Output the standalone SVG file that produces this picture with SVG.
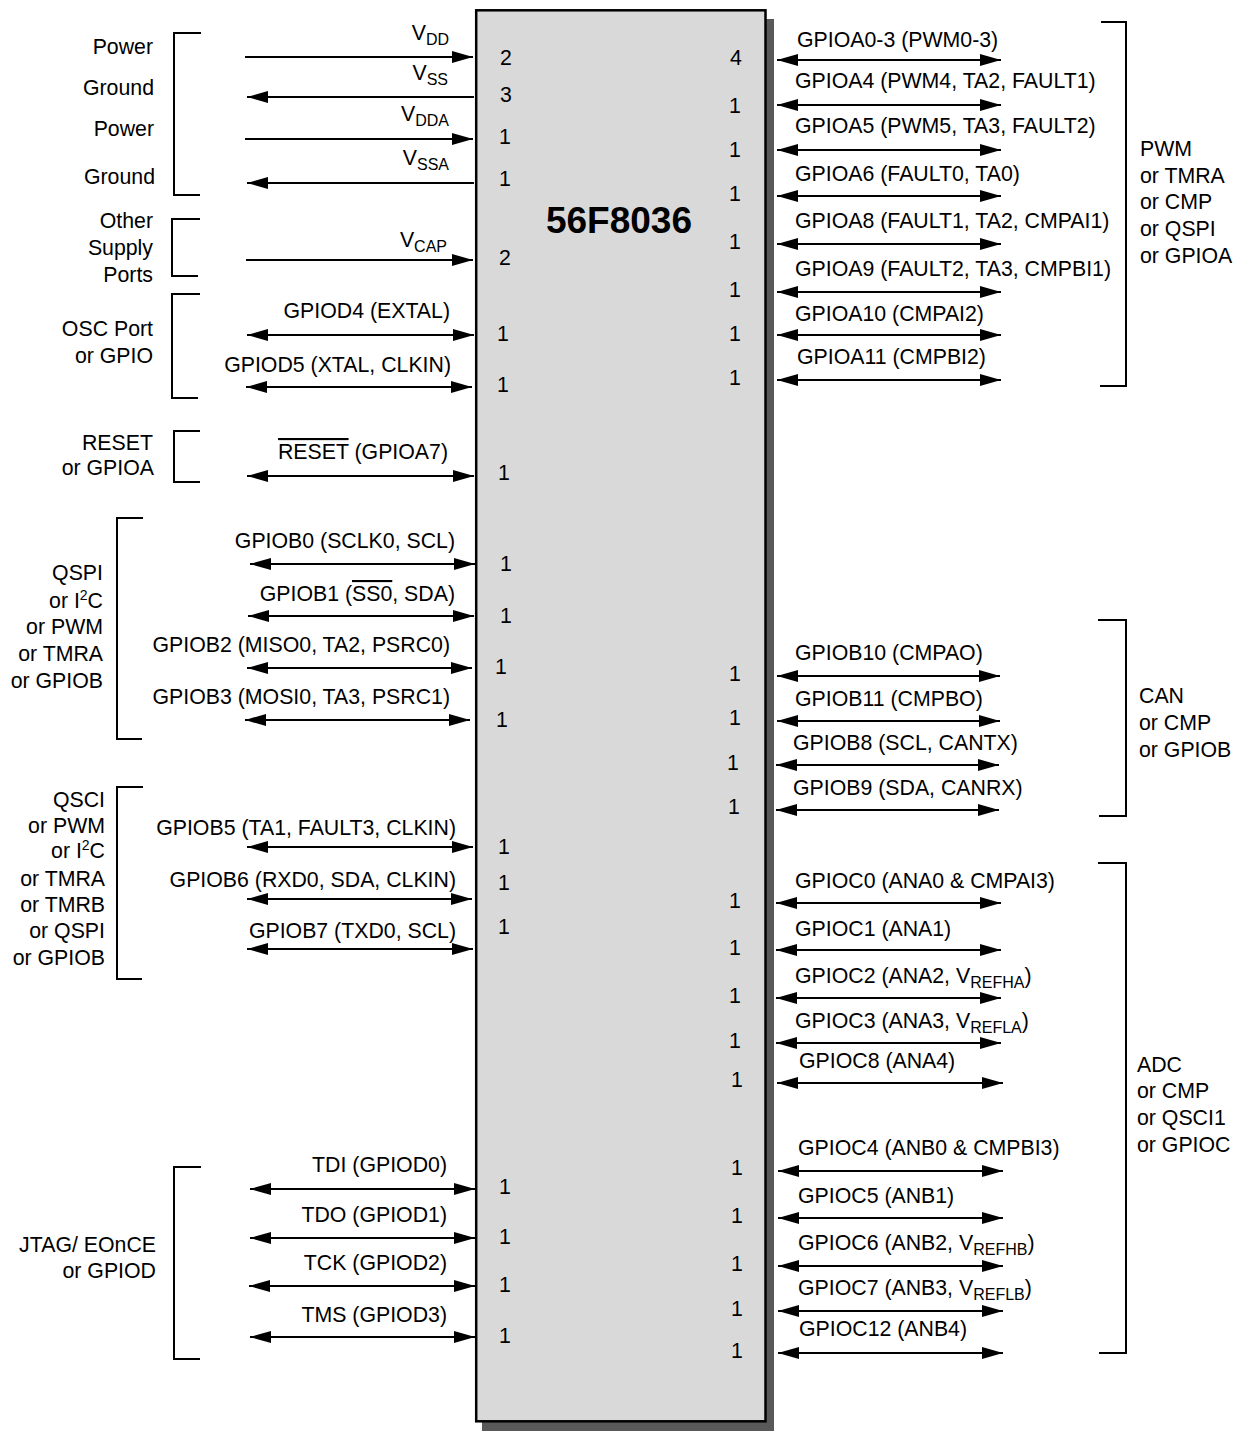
<svg xmlns="http://www.w3.org/2000/svg" width="1238" height="1431" viewBox="0 0 1238 1431">
<defs>
<marker id="ah" markerWidth="21" markerHeight="12" refX="21" refY="6" orient="auto-start-reverse" markerUnits="userSpaceOnUse"><path d="M0,0 L21,6 L0,12 Z" fill="#000"/></marker>
<style>
text{font-family:"Liberation Sans",Arial,Helvetica,sans-serif;font-size:21.3px;fill:#000}
.e{text-anchor:end}
.m{text-anchor:middle}
.sub{font-size:16px}
.sup{font-size:14px}
.w{stroke:#000;stroke-width:2;fill:none}
.a1{marker-end:url(#ah)}
.a2{marker-start:url(#ah);marker-end:url(#ah)}
.br{stroke:#000;stroke-width:2;fill:none}
.ov{text-decoration:overline}
</style>
</defs>
<rect width="1238" height="1431" fill="#fff"/>
<g id="chip">
<rect x="482" y="19" width="292" height="1412" fill="#595959"/>
<rect x="476.2" y="10.3" width="289.3" height="1411" fill="#d9d9d9" stroke="#000" stroke-width="2.5"/>
<text x="619" y="233" class="m" style="font-size:37px;font-weight:bold">56F8036</text>
</g>
<g id="connectors">
<line class="w a1" x1="245" y1="57" x2="473" y2="57"/>
<line class="w a1" x1="474" y1="97" x2="247" y2="97"/>
<line class="w a1" x1="245" y1="139" x2="473" y2="139"/>
<line class="w a1" x1="474" y1="183" x2="247" y2="183"/>
<line class="w a1" x1="246" y1="260" x2="473" y2="260"/>
<line class="w a2" x1="247" y1="335" x2="474" y2="335"/>
<line class="w a2" x1="246" y1="387" x2="472" y2="387"/>
<line class="w a2" x1="247" y1="476" x2="474" y2="476"/>
<line class="w a2" x1="250" y1="564" x2="475" y2="564"/>
<line class="w a2" x1="248" y1="616" x2="474" y2="616"/>
<line class="w a2" x1="247" y1="668" x2="472" y2="668"/>
<line class="w a2" x1="245" y1="720" x2="470" y2="720"/>
<line class="w a2" x1="247" y1="847" x2="473" y2="847"/>
<line class="w a2" x1="247" y1="899" x2="472" y2="899"/>
<line class="w a2" x1="247" y1="949" x2="473" y2="949"/>
<line class="w a2" x1="250" y1="1189" x2="475" y2="1189"/>
<line class="w a2" x1="250" y1="1238" x2="475" y2="1238"/>
<line class="w a2" x1="249" y1="1286" x2="475" y2="1286"/>
<line class="w a2" x1="250" y1="1337" x2="475" y2="1337"/>
<line class="w a2" x1="777" y1="60" x2="1001" y2="60"/>
<line class="w a2" x1="777" y1="105" x2="1001" y2="105"/>
<line class="w a2" x1="777" y1="150" x2="1001" y2="150"/>
<line class="w a2" x1="777" y1="196" x2="1001" y2="196"/>
<line class="w a2" x1="777" y1="244" x2="1001" y2="244"/>
<line class="w a2" x1="777" y1="292" x2="1001" y2="292"/>
<line class="w a2" x1="777" y1="335" x2="1001" y2="335"/>
<line class="w a2" x1="777" y1="380" x2="1001" y2="380"/>
<line class="w a2" x1="777" y1="676" x2="1000" y2="676"/>
<line class="w a2" x1="777" y1="721" x2="1000" y2="721"/>
<line class="w a2" x1="776" y1="765" x2="999" y2="765"/>
<line class="w a2" x1="776" y1="810" x2="999" y2="810"/>
<line class="w a2" x1="776" y1="903" x2="1001" y2="903"/>
<line class="w a2" x1="776" y1="950" x2="1001" y2="950"/>
<line class="w a2" x1="776" y1="998" x2="1001" y2="998"/>
<line class="w a2" x1="776" y1="1043" x2="1001" y2="1043"/>
<line class="w a2" x1="777" y1="1083" x2="1003" y2="1083"/>
<line class="w a2" x1="778" y1="1171" x2="1003" y2="1171"/>
<line class="w a2" x1="778" y1="1218" x2="1003" y2="1218"/>
<line class="w a2" x1="778" y1="1266" x2="1003" y2="1266"/>
<line class="w a2" x1="778" y1="1311" x2="1003" y2="1311"/>
<line class="w a2" x1="778" y1="1353" x2="1003" y2="1353"/>
</g>
<g id="brackets">
<polyline class="br" points="201,33 174,33 174,195 200,195"/>
<polyline class="br" points="200,219 172,219 172,276 198,276"/>
<polyline class="br" points="200,294 172,294 172,398 198,398"/>
<polyline class="br" points="200,431 174,431 174,482 200,482"/>
<polyline class="br" points="143,518 117,518 117,739 142,739"/>
<polyline class="br" points="143,787 117,787 117,979 142,979"/>
<polyline class="br" points="201,1167 174,1167 174,1359 200,1359"/>
<polyline class="br" points="1101,22 1126,22 1126,386 1100,386"/>
<polyline class="br" points="1098,620 1126,620 1126,816 1099,816"/>
<polyline class="br" points="1098,863 1126,863 1126,1353 1099,1353"/>
</g>
<g id="group-labels">
<text x="153" y="54" class="e">Power</text>
<text x="154" y="95" class="e">Ground</text>
<text x="154" y="136" class="e">Power</text>
<text x="155" y="184" class="e">Ground</text>
<text x="153" y="228" class="e">Other</text>
<text x="153" y="255" class="e">Supply</text>
<text x="153" y="282" class="e">Ports</text>
<text x="153" y="336" class="e">OSC Port</text>
<text x="153" y="363" class="e">or GPIO</text>
<text x="153" y="450" class="e">RESET</text>
<text x="154" y="475" class="e">or GPIOA</text>
<text x="103" y="580" class="e">QSPI</text>
<text x="103" y="608" class="e">or I<tspan class="sup" dy="-8">2</tspan><tspan dy="8">C</tspan></text>
<text x="103" y="634" class="e">or PWM</text>
<text x="103" y="661" class="e">or TMRA</text>
<text x="103" y="688" class="e">or GPIOB</text>
<text x="105" y="807" class="e">QSCI</text>
<text x="105" y="833" class="e">or PWM</text>
<text x="105" y="858" class="e">or I<tspan class="sup" dy="-8">2</tspan><tspan dy="8">C</tspan></text>
<text x="105" y="886" class="e">or TMRA</text>
<text x="105" y="912" class="e">or TMRB</text>
<text x="105" y="938" class="e">or QSPI</text>
<text x="105" y="965" class="e">or GPIOB</text>
<text x="156" y="1252" class="e">JTAG/ EOnCE</text>
<text x="156" y="1278" class="e">or GPIOD</text>
<text x="1140" y="156">PWM</text>
<text x="1140" y="183">or TMRA</text>
<text x="1140" y="209">or CMP</text>
<text x="1140" y="236">or QSPI</text>
<text x="1140" y="263">or GPIOA</text>
<text x="1139" y="703">CAN</text>
<text x="1139" y="730">or CMP</text>
<text x="1139" y="757">or GPIOB</text>
<text x="1137" y="1072">ADC</text>
<text x="1137" y="1098">or CMP</text>
<text x="1137" y="1125">or QSCI1</text>
<text x="1137" y="1152">or GPIOC</text>
</g>
<g id="left-pins">
<text x="449" y="40" class="e">V<tspan class="sub" dy="4.5">DD</tspan></text>
<text x="448" y="80" class="e">V<tspan class="sub" dy="4.5">SS</tspan></text>
<text x="449" y="121" class="e">V<tspan class="sub" dy="4.5">DDA</tspan></text>
<text x="449" y="165" class="e">V<tspan class="sub" dy="4.5">SSA</tspan></text>
<text x="447" y="247" class="e">V<tspan class="sub" dy="4.5">CAP</tspan></text>
<text x="450" y="318" class="e">GPIOD4 (EXTAL)</text>
<text x="451" y="372" class="e">GPIOD5 (XTAL, CLKIN)</text>
<text x="448" y="459" class="e"><tspan class="ov">RESET</tspan> (GPIOA7)</text>
<text x="455" y="548" class="e">GPIOB0 (SCLK0, SCL)</text>
<text x="455" y="601" class="e">GPIOB1 (<tspan class="ov">SS0</tspan>, SDA)</text>
<text x="450" y="652" class="e">GPIOB2 (MISO0, TA2, PSRC0)</text>
<text x="450" y="704" class="e">GPIOB3 (MOSI0, TA3, PSRC1)</text>
<text x="456" y="835" class="e">GPIOB5 (TA1, FAULT3, CLKIN)</text>
<text x="456" y="887" class="e">GPIOB6 (RXD0, SDA, CLKIN)</text>
<text x="456" y="938" class="e">GPIOB7 (TXD0, SCL)</text>
<text x="447" y="1172" class="e">TDI (GPIOD0)</text>
<text x="447" y="1222" class="e">TDO (GPIOD1)</text>
<text x="447" y="1270" class="e">TCK (GPIOD2)</text>
<text x="447" y="1322" class="e">TMS (GPIOD3)</text>
</g>
<g id="left-counts">
<text x="506" y="65" class="m">2</text>
<text x="506" y="102" class="m">3</text>
<text x="505" y="144" class="m">1</text>
<text x="505" y="186" class="m">1</text>
<text x="505" y="265" class="m">2</text>
<text x="503" y="341" class="m">1</text>
<text x="503" y="392" class="m">1</text>
<text x="504" y="480" class="m">1</text>
<text x="506" y="571" class="m">1</text>
<text x="506" y="623" class="m">1</text>
<text x="501" y="674" class="m">1</text>
<text x="502" y="727" class="m">1</text>
<text x="504" y="854" class="m">1</text>
<text x="504" y="890" class="m">1</text>
<text x="504" y="934" class="m">1</text>
<text x="505" y="1194" class="m">1</text>
<text x="505" y="1244" class="m">1</text>
<text x="505" y="1292" class="m">1</text>
<text x="505" y="1343" class="m">1</text>
</g>
<g id="right-pins">
<text x="797" y="47">GPIOA0-3 (PWM0-3)</text>
<text x="795" y="88">GPIOA4 (PWM4, TA2, FAULT1)</text>
<text x="795" y="133">GPIOA5 (PWM5, TA3, FAULT2)</text>
<text x="795" y="181">GPIOA6 (FAULT0, TA0)</text>
<text x="795" y="228">GPIOA8 (FAULT1, TA2, CMPAI1)</text>
<text x="795" y="276">GPIOA9 (FAULT2, TA3, CMPBI1)</text>
<text x="795" y="321">GPIOA10 (CMPAI2)</text>
<text x="797" y="364">GPIOA11 (CMPBI2)</text>
<text x="795" y="660">GPIOB10 (CMPAO)</text>
<text x="795" y="706">GPIOB11 (CMPBO)</text>
<text x="793" y="750">GPIOB8 (SCL, CANTX)</text>
<text x="793" y="795">GPIOB9 (SDA, CANRX)</text>
<text x="795" y="888">GPIOC0 (ANA0 &amp; CMPAI3)</text>
<text x="795" y="936">GPIOC1 (ANA1)</text>
<text x="795" y="983">GPIOC2 (ANA2, V<tspan class="sub" dy="4.5">REFHA</tspan><tspan dy="-4.5">)</tspan></text>
<text x="795" y="1028">GPIOC3 (ANA3, V<tspan class="sub" dy="4.5">REFLA</tspan><tspan dy="-4.5">)</tspan></text>
<text x="799" y="1068">GPIOC8 (ANA4)</text>
<text x="798" y="1155">GPIOC4 (ANB0 &amp; CMPBI3)</text>
<text x="798" y="1203">GPIOC5 (ANB1)</text>
<text x="798" y="1250">GPIOC6 (ANB2, V<tspan class="sub" dy="4.5">REFHB</tspan><tspan dy="-4.5">)</tspan></text>
<text x="798" y="1295">GPIOC7 (ANB3, V<tspan class="sub" dy="4.5">REFLB</tspan><tspan dy="-4.5">)</tspan></text>
<text x="799" y="1336">GPIOC12 (ANB4)</text>
</g>
<g id="right-counts">
<text x="736" y="65" class="m">4</text>
<text x="735" y="113" class="m">1</text>
<text x="735" y="157" class="m">1</text>
<text x="735" y="201" class="m">1</text>
<text x="735" y="249" class="m">1</text>
<text x="735" y="297" class="m">1</text>
<text x="735" y="341" class="m">1</text>
<text x="735" y="385" class="m">1</text>
<text x="735" y="681" class="m">1</text>
<text x="735" y="725" class="m">1</text>
<text x="733" y="770" class="m">1</text>
<text x="734" y="814" class="m">1</text>
<text x="735" y="908" class="m">1</text>
<text x="735" y="955" class="m">1</text>
<text x="735" y="1003" class="m">1</text>
<text x="735" y="1048" class="m">1</text>
<text x="737" y="1087" class="m">1</text>
<text x="737" y="1175" class="m">1</text>
<text x="737" y="1223" class="m">1</text>
<text x="737" y="1271" class="m">1</text>
<text x="737" y="1316" class="m">1</text>
<text x="737" y="1358" class="m">1</text>
</g>
</svg>
